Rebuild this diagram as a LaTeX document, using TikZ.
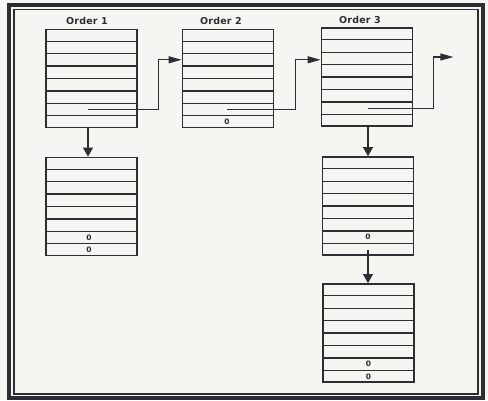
\documentclass[tikz,border=0pt]{standalone}
\usepackage{fontspec}
\usetikzlibrary{calc,arrows.meta}
\newfontfamily\lblfont{DejaVu Sans}[LetterSpace=2]
\definecolor{paper}{RGB}{243,246,241}
\definecolor{inkc}{RGB}{44,46,52}
\begin{document}
\begin{tikzpicture}[x=1pt,y=-1pt,
  rec/.style={draw=inkc, line width=1.8pt, fill=paper, inner sep=0pt,
    minimum width=91pt, minimum height=98pt},
  rowline/.style={draw=inkc, line width=1.1pt},
  lbl/.style={font=\lblfont\bfseries\fontsize{9.5}{11}\selectfont, text=inkc, inner sep=0pt},
  zero/.style={font=\lblfont\bfseries\fontsize{7.5}{8}\selectfont, text=inkc, inner sep=0pt},
  hconn/.style={draw=inkc, line width=1.1pt, -{Triangle[length=13pt,width=7pt]}},
  vconn/.style={draw=inkc, line width=1.1pt, -{Triangle[length=9pt,width=10pt]}}]
% page and double frame
\fill[paper] (0,0) rectangle (488,400);
\useasboundingbox (0,0) rectangle (488,400);
\draw[inkc, line width=4pt] (9,5) rectangle (483,398);
\draw[inkc, line width=1.2pt] (14,9.5) rectangle (478,394);

% record blocks
\node[rec] (o1) at (91.5,78.5) {};
\node[rec] (o2) at (228,78.5) {};
\node[rec] (o3) at (367,77) {};
\node[rec] (b1) at (91.5,206.5) {};
\node[rec] (b3) at (368,206) {};
\node[rec] (b4) at (368.5,333) {};

% eight slots per block
\foreach \b in {o1,o2,o3,b1,b3,b4}
  \foreach \i in {1,...,7}
    \draw[rowline] ($(\b.north west)!\i/8!(\b.south west)$) -- ($(\b.north east)!\i/8!(\b.south east)$);

% headings
\node[lbl] (l1) at ($(o1.north)+(-4.5,-7.5)$) {Order 1};
\node[lbl] (l2) at ($(o2.north)+(-7,-7.5)$) {Order 2};
\node[lbl] (l3) at ($(o3.north)+(-7,-7)$) {Order 3};

% null pointers
\node[zero] (z2) at ($(o2.north)!0.9375!(o2.south)+(-1,0)$) {0};
\node[zero] (z11) at ($(b1.north)!0.8125!(b1.south)+(-2.5,0)$) {0};
\node[zero] (z12) at ($(b1.north)!0.9375!(b1.south)+(-2.5,0)$) {0};
\node[zero] (z3) at ($(b3.north)!0.8125!(b3.south)$) {0};
\node[zero] (z41) at ($(b4.north)!0.8125!(b4.south)$) {0};
\node[zero] (z42) at ($(b4.north)!0.9375!(b4.south)$) {0};

% pointer origins and targets
\coordinate (s1) at ($(o1.north)!0.8125!(o1.south)+(-3.5,0)$);
\coordinate (e2) at ($(o2.north west)!0.3125!(o2.south west)$);
\coordinate (s2) at ($(o2.north)!0.8125!(o2.south)+(-1,0)$);
\coordinate (e3) at (o3.west |- e2);
\coordinate (s3) at ($(o3.north)!0.8125!(o3.south)+(1,0)$);
\coordinate (x3) at ($(o3.east)+(40,-20)$);
\coordinate (s4) at ($(b3.north)!0.9375!(b3.south)$);

% next-order links
\draw[hconn] (s1) -| ($(e2)+(-23,0)$) -- (e2);
\draw[hconn] (s2) -| ($(e3)+(-25,0)$) -- (e3);
\draw[hconn] (s3) -| ($(x3)+(-20,0)$) -- (x3);

% overflow links
\draw[vconn] (s1 |- o1.south) -- (s1 |- b1.north);
\draw[vconn] (s3 |- o3.south) -- (s3 |- b3.north);
\draw[vconn] (s4) -- (s4 |- b4.north);
\end{tikzpicture}
\end{document}
